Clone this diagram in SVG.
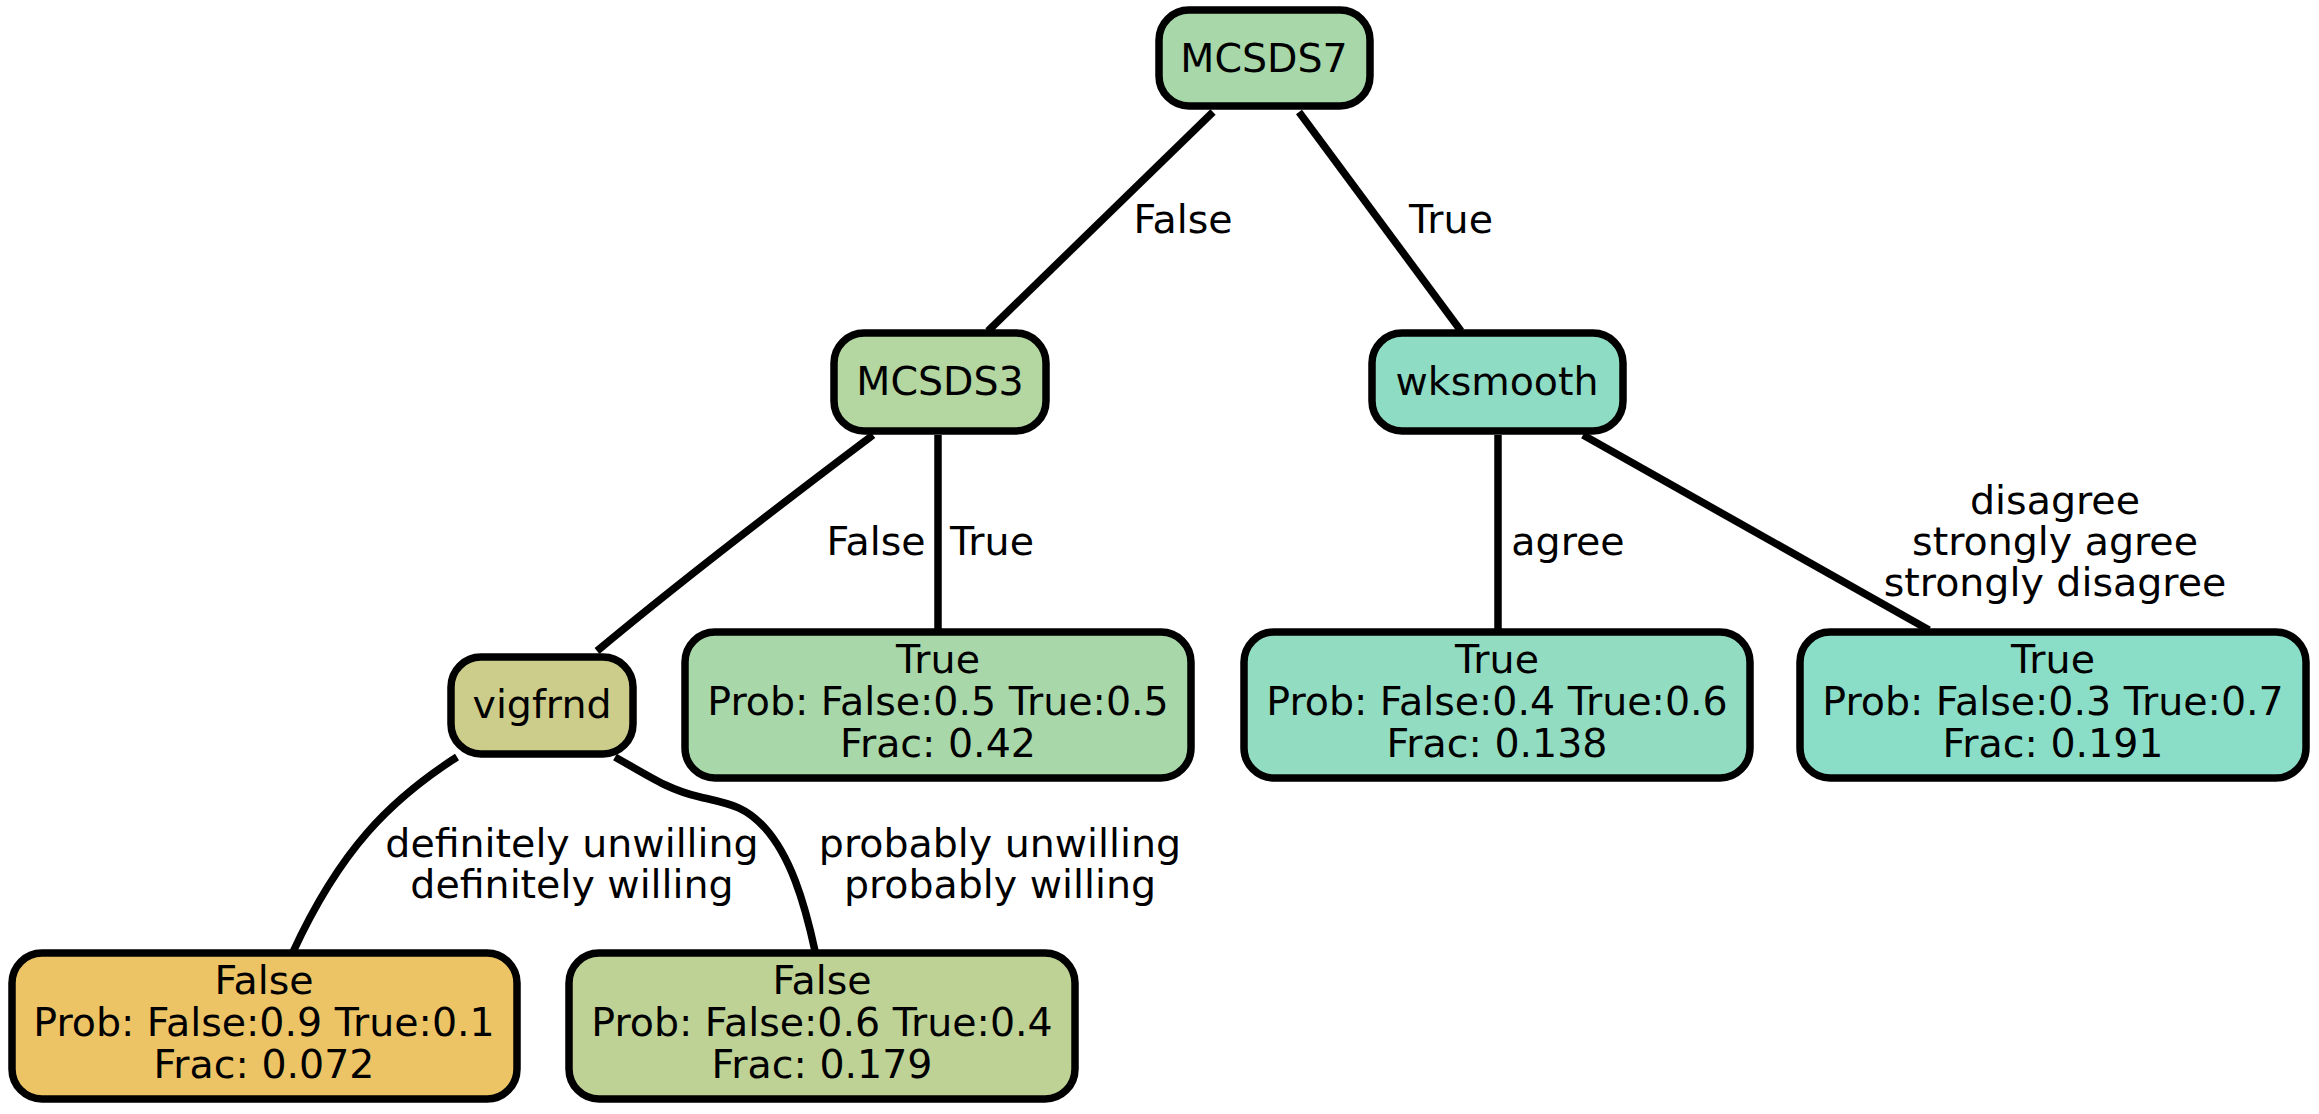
<svg xmlns="http://www.w3.org/2000/svg" width="2319" height="1114" viewBox="0 0 2319 1114">
<style>
.n{stroke:#000;stroke-width:7.5}
.t{font-family:"DejaVu Sans",sans-serif;font-size:39.5px;fill:#000;text-anchor:middle}
.e{fill:none;stroke:#000;stroke-width:7.5}
</style>
<rect width="2319" height="1114" fill="#fff"/>
<g id="connectors">
<path class="e" d="M1213,112 L988,331"/>
<path class="e" d="M1299,112 L1461,331"/>
<path class="e" d="M873,435 C820,475 700,565 597,651"/>
<path class="e" d="M938,435 L938,629"/>
<path class="e" d="M1498,435 L1498,629"/>
<path class="e" d="M1583,435 L1929,630"/>
<path class="e" d="M457,757 C390,800 340,850 293,952"/>
<path class="e" d="M615,757 C650,777 669,790 700,797 C730,804 745,806 765,828 C790,856 804,900 815,951"/>
<text class="t" x="1183" y="233">False</text>
<text class="t" x="1451" y="233">True</text>
<text class="t" x="876" y="555">False</text>
<text class="t" x="992" y="555">True</text>
<text class="t" x="1568" y="555">agree</text>
<text class="t" x="2055" y="514">disagree<tspan x="2055" dy="41">strongly agree</tspan><tspan x="2055" dy="41">strongly disagree</tspan></text>
<text class="t" x="572" y="857">definitely unwilling<tspan x="572" dy="41">definitely willing</tspan></text>
<text class="t" x="1000" y="857">probably unwilling<tspan x="1000" dy="41">probably willing</tspan></text>
</g>
<g id="MCSDS7">
<rect class="n" x="1159" y="10" width="211" height="96" rx="30" fill="#a8d7aa"/>
<text class="t" x="1264" y="72">MCSDS7</text>
</g>
<g id="MCSDS3">
<rect class="n" x="834" y="333" width="212" height="98" rx="30" fill="#b4d6a0"/>
<text class="t" x="940" y="395">MCSDS3</text>
</g>
<g id="wksmooth">
<rect class="n" x="1372" y="333" width="251" height="98" rx="30" fill="#8edcc4"/>
<text class="t" x="1497" y="395">wksmooth</text>
</g>
<g id="vigfrnd">
<rect class="n" x="451" y="657" width="182" height="97" rx="30" fill="#cccd8a"/>
<text class="t" x="542" y="718">vigfrnd</text>
</g>
<g id="leaf_mcsds3_true">
<rect class="n" x="685" y="632" width="506" height="146" rx="30" fill="#a8d7aa"/>
<text class="t" x="938" y="673">True<tspan x="938" dy="42">Prob: False:0.5 True:0.5</tspan><tspan x="938" dy="42">Frac: 0.42</tspan></text>
</g>
<g id="leaf_agree">
<rect class="n" x="1244" y="632" width="506" height="146" rx="30" fill="#92dcc2"/>
<text class="t" x="1497" y="673">True<tspan x="1497" dy="42">Prob: False:0.4 True:0.6</tspan><tspan x="1497" dy="42">Frac: 0.138</tspan></text>
</g>
<g id="leaf_disagree">
<rect class="n" x="1800" y="632" width="506" height="146" rx="30" fill="#8adec8"/>
<text class="t" x="2053" y="673">True<tspan x="2053" dy="42">Prob: False:0.3 True:0.7</tspan><tspan x="2053" dy="42">Frac: 0.191</tspan></text>
</g>
<g id="leaf_definitely">
<rect class="n" x="12" y="953" width="505" height="146" rx="30" fill="#ecc466"/>
<text class="t" x="264" y="994">False<tspan x="264" dy="42">Prob: False:0.9 True:0.1</tspan><tspan x="264" dy="42">Frac: 0.072</tspan></text>
</g>
<g id="leaf_probably">
<rect class="n" x="569" y="953" width="506" height="146" rx="30" fill="#bed296"/>
<text class="t" x="822" y="994">False<tspan x="822" dy="42">Prob: False:0.6 True:0.4</tspan><tspan x="822" dy="42">Frac: 0.179</tspan></text>
</g>
</svg>
